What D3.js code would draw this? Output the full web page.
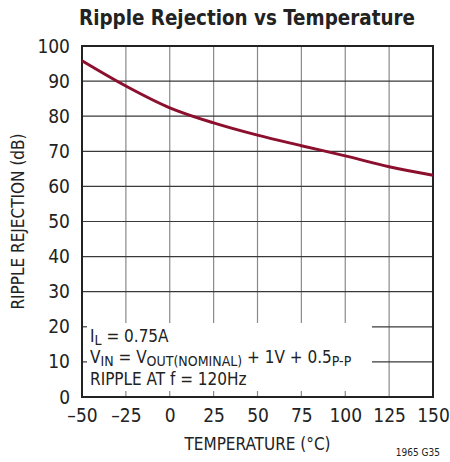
<html>
  <head>
    <meta charset="utf-8" />
    <title>Ripple Rejection vs Temperature</title>
    <script src="https://d3js.org/d3.v7.min.js"></script>
    <style>
      body {
        margin: 0;
        background: #fff;
      }
      text {
        font-family: "Liberation Sans Narrow", "DejaVu Sans Condensed", "Roboto", sans-serif;
        fill: #222;
      }
    </style>
  </head>
  <body>
    <svg id="chart"></svg>
    <script>
      var temps = [-50, -25, 0, 25, 50, 75, 100, 125, 150];
      var rejection = [95.8, 88.6, 82.4, 78.1, 74.6, 71.6, 68.7, 65.6, 63.2];
      var xTicks = [-50, -25, 0, 25, 50, 75, 100, 125, 150];
      var yTicks = [0, 10, 20, 30, 40, 50, 60, 70, 80, 90, 100];

      var width = 450;
      var height = 462;
      var margin = { top: 46, right: 17, bottom: 65, left: 82 };

      var svg = d3.select("#chart")
        .attr("width", width)
        .attr("height", height);

      var x = d3.scaleLinear()
        .domain([-50, 150])
        .range([margin.left, width - margin.right]);

      var y = d3.scaleLinear()
        .domain([0, 100])
        .range([height - margin.bottom, margin.top]);

      // box that hides the grid behind the notes
      var box = { x0: x(-50), x1: 372, y0: 323, y1: y(0) - 6 };

      // vertical grid lines
      svg.append("g")
        .selectAll("line")
        .data(xTicks.slice(1, -1))
        .enter().append("line")
        .attr("x1", function(d) { return x(d); })
        .attr("x2", function(d) { return x(d); })
        .attr("y1", y(100))
        .attr("y2", function(d) { return x(d) < box.x1 ? box.y0 : y(0); })
        .attr("stroke", "#8a8a8a")
        .attr("stroke-width", 1.2);

      // small ticks at the bottom inside the box
      svg.append("g")
        .selectAll("line")
        .data(xTicks.slice(1, -1).filter(function(d) { return x(d) < box.x1; }))
        .enter().append("line")
        .attr("x1", function(d) { return x(d); })
        .attr("x2", function(d) { return x(d); })
        .attr("y1", box.y1)
        .attr("y2", y(0))
        .attr("stroke", "#8a8a8a")
        .attr("stroke-width", 1.2);

      // horizontal grid lines
      svg.append("g")
        .selectAll("line")
        .data(yTicks.slice(1, -1))
        .enter().append("line")
        .attr("x1", function(d) { return y(d) > box.y0 - 6 ? box.x1 : x(-50); })
        .attr("x2", x(150))
        .attr("y1", function(d) { return y(d); })
        .attr("y2", function(d) { return y(d); })
        .attr("stroke", "#3a3a3a")
        .attr("stroke-width", 1.2);

      // small ticks on the left inside the box
      svg.append("g")
        .selectAll("line")
        .data(yTicks.slice(1, -1).filter(function(d) { return y(d) > box.y0 - 6; }))
        .enter().append("line")
        .attr("x1", x(-50))
        .attr("x2", x(-50) + 5)
        .attr("y1", function(d) { return y(d); })
        .attr("y2", function(d) { return y(d); })
        .attr("stroke", "#3a3a3a")
        .attr("stroke-width", 1.2);

      // frame
      svg.append("rect")
        .attr("x", x(-50))
        .attr("y", y(100))
        .attr("width", x(150) - x(-50))
        .attr("height", y(0) - y(100))
        .attr("fill", "none")
        .attr("stroke", "#222")
        .attr("stroke-width", 2);

      // curve
      var line = d3.line()
        .x(function(d, i) { return x(temps[i]); })
        .y(function(d) { return y(d); })
        .curve(d3.curveCatmullRom.alpha(0.5));

      svg.append("path")
        .datum(rejection)
        .attr("d", line)
        .attr("fill", "none")
        .attr("stroke", "#8c0f2e")
        .attr("stroke-width", 3);

      // axis labels
      var xAxis = d3.axisBottom(x).tickValues(xTicks).tickSize(0).tickPadding(12)
        .tickFormat(function(d) { return d < 0 ? "\u2013" + Math.abs(d) : d; });
      var gx = svg.append("g")
        .attr("transform", "translate(0," + y(0) + ")")
        .call(xAxis);
      gx.select(".domain").remove();
      gx.selectAll("text")
        .style("font-size", "19px")
        .attr("fill", "#222");

      var yAxis = d3.axisLeft(y).tickValues(yTicks).tickSize(0).tickPadding(12);
      var gy = svg.append("g")
        .attr("transform", "translate(" + x(-50) + ",0)")
        .call(yAxis);
      gy.select(".domain").remove();
      gy.selectAll("text")
        .style("font-size", "19px")
        .attr("fill", "#222");

      // title
      svg.append("text")
        .attr("x", 247)
        .attr("y", 25)
        .attr("text-anchor", "middle")
        .attr("textLength", 336)
        .attr("lengthAdjust", "spacingAndGlyphs")
        .style("font-size", "22px")
        .style("font-weight", "bold")
        .text("Ripple Rejection vs Temperature");

      svg.append("text")
        .attr("x", (x(-50) + x(150)) / 2)
        .attr("y", 450)
        .attr("text-anchor", "middle")
        .style("font-size", "17px")
        .text("TEMPERATURE (\u00b0C)");

      svg.append("text")
        .attr("transform", "translate(24," + ((y(0) + y(100)) / 2) + ") rotate(-90)")
        .attr("text-anchor", "middle")
        .style("font-size", "17px")
        .text("RIPPLE REJECTION (dB)");

      svg.append("text")
        .attr("x", 440)
        .attr("y", 456)
        .attr("text-anchor", "end")
        .style("font-size", "10px")
        .text("1965 G35");

      // notes
      var notes = svg.append("g").style("font-size", "17px");
      var t1 = notes.append("text").attr("x", 90).attr("y", 342);
      t1.append("tspan").text("I");
      t1.append("tspan").attr("dy", 3).style("font-size", "14px").text("L");
      t1.append("tspan").attr("dy", -3).text(" = 0.75A");

      var t2 = notes.append("text").attr("x", 90).attr("y", 363);
      t2.append("tspan").text("V");
      t2.append("tspan").attr("dy", 3).style("font-size", "14px").text("IN");
      t2.append("tspan").attr("dy", -3).text(" = V");
      t2.append("tspan").attr("dy", 3).style("font-size", "14px").text("OUT(NOMINAL)");
      t2.append("tspan").attr("dy", -3).text(" + 1V + 0.5");
      t2.append("tspan").attr("dy", 3).style("font-size", "14px").text("P-P");

      notes.append("text").attr("x", 90).attr("y", 385).text("RIPPLE AT f = 120Hz");
    </script>
  </body>
</html>
